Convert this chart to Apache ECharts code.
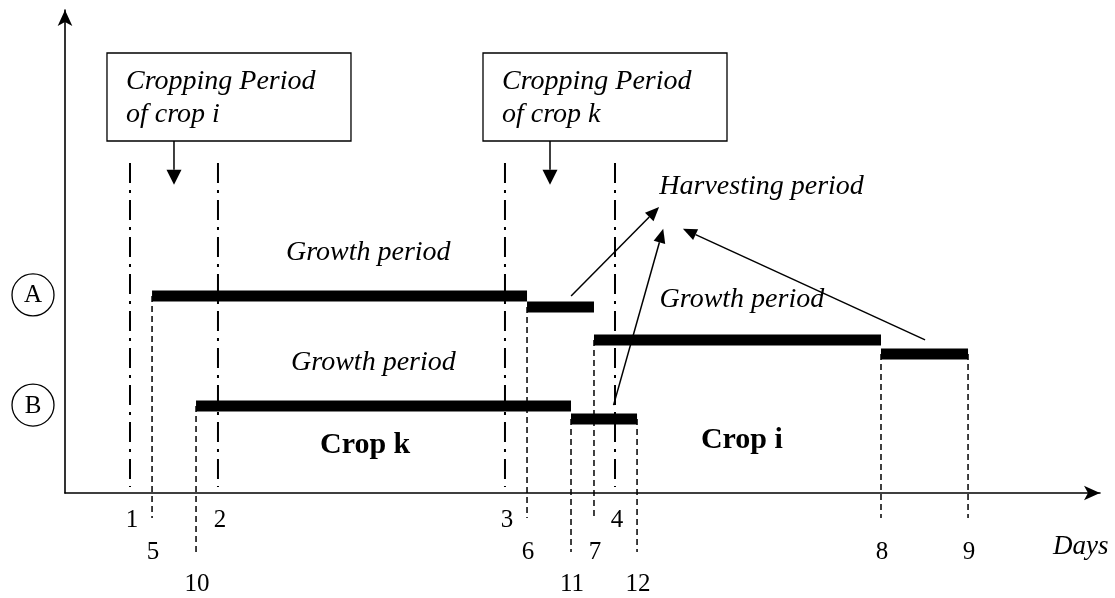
<!DOCTYPE html>
<html lang="en">
<head>
<meta charset="UTF-8">
<title>Cropping and harvesting periods</title>
<script src="https://cdn.jsdelivr.net/npm/echarts@6/dist/echarts.min.js"></script>
<style>
    body, html { margin: 0; background: #fff; }
    #main { width: 1115px; height: 598px; }
</style>
</head>
<body>
<div id="main"></div>
<script>
    // days on the time axis (x axis runs 0..100)
    const boundaryDays = [6.28, 14.78, 42.51, 53.14];     // limits of the cropping periods
    const boundaryLabels = ['1', '2', '3', '4'];
    const daysA = [8.41, 44.64, 51.11, 78.84, 87.25];     // field A
    const labelsA = ['5', '6', '7', '8', '9'];
    const daysB = [12.66, 48.89, 55.27];                  // field B
    const labelsB = ['10', '11', '12'];
    // height of each bar between two consecutive days above
    const levelsA = [40.8, 38.5, 31.7, 28.8];
    const levelsB = [18.0, 15.3];
    const rowNames = ['A', 'B'];

    // annotations
    const noteTexts = ['Growth period', 'Growth period', 'Growth period', 'Harvesting period'];
    const notePos = [[29.3, 49.7], [29.8, 26.9], [65.4, 40.0], [67.3, 63.4]];
    const cropTexts = ['Crop k', 'Crop i'];
    const cropPos = [[29.0, 9.9], [65.4, 11.0]];
    const boxTexts = [['Cropping Period', 'of crop i'], ['Cropping Period', 'of crop k']];
    const boxArrowDays = [10.53, 46.86];
    const harvestFrom = [[48.9, 40.8], [53.0, 18.2], [83.1, 31.7]];
    const harvestTo = [[57.4, 59.2], [57.8, 54.7], [59.7, 54.7]];

    const INK = '#000';
    const SERIF = '"Liberation Serif", "Times New Roman", serif';
    const DASHDOT_TOP = 68.3;
    const BOX_TOP = 91.1;
    const BOX_ARROW_END = 63.8;

    const rows = [
        {days: daysA, levels: levelsA, labels: labelsA, drop: 25, labelDy: 59},
        {days: daysB, levels: levelsB, labels: labelsB, drop: 59, labelDy: 91}
    ];

    // flat lists built from the arrays above
    const bars = [];
    const drops = [];
    rows.forEach(function (r, ri) {
        for (let i = 0; i < r.levels.length; i++) {
            bars.push([r.days[i], r.levels[i], r.days[i + 1]]);
        }
        r.days.forEach(function (d, i) {
            const lvl = r.levels[Math.min(i, r.levels.length - 1)];
            drops.push([d, lvl, ri, i]);
        });
    });

    function arrow(p0, p1, len, half, lw) {
        const dx = p1[0] - p0[0], dy = p1[1] - p0[1];
        const L = Math.hypot(dx, dy), ux = dx / L, uy = dy / L;
        const bx = p1[0] - ux * len, by = p1[1] - uy * len;
        return [
            {type: 'line', shape: {x1: p0[0], y1: p0[1], x2: bx, y2: by}, style: {stroke: INK, lineWidth: lw}},
            {type: 'polygon', shape: {points: [[p1[0], p1[1]], [bx - uy * half, by + ux * half], [bx + uy * half, by - ux * half]]}, style: {fill: INK}}
        ];
    }

    function txt(text, x, y, font, align) {
        return {type: 'text', style: {text: text, x: x, y: y, font: font, fill: INK,
            align: align || 'center', verticalAlign: 'middle'}};
    }

    const chart = echarts.init(document.getElementById('main'));

    const axisBase = {
        type: 'value',
        axisTick: {show: false},
        axisLabel: {show: false},
        splitLine: {show: false},
        axisLine: {show: true, symbol: ['none', 'arrow'], symbolSize: [11, 16], lineStyle: {color: INK, width: 1.6}}
    };

    const option = {
        backgroundColor: '#fff',
        animation: false,
        grid: {left: 65, right: 15, top: 10, bottom: 105, outerBoundsMode: 'none'},
        xAxis: Object.assign({}, axisBase, {
            min: 0, max: 100,
            name: 'Days', nameLocation: 'end', nameGap: -47,
            nameTextStyle: {fontFamily: SERIF, fontStyle: 'italic', fontSize: 27, color: INK,
                align: 'left', verticalAlign: 'top', padding: [40, 0, 0, 0]}
        }),
        yAxis: Object.assign({}, axisBase, {min: 0, max: 100}),
        series: [
            {   // cropping period limits 1..4
                type: 'custom', silent: true, z: 1,
                data: boundaryDays.map(function (d) { return [d, 0]; }),
                renderItem: function (params, api) {
                    const top = api.coord([api.value(0), DASHDOT_TOP]);
                    const base = api.coord([api.value(0), 0]);
                    return {type: 'group', children: [
                        {type: 'line', shape: {x1: top[0], y1: top[1], x2: base[0], y2: base[1] - 6},
                            style: {stroke: INK, lineWidth: 2, lineDash: [20, 7, 3, 7]}},
                        txt(boundaryLabels[params.dataIndex], base[0] + 2, base[1] + 27, '25px ' + SERIF)
                    ]};
                }
            },
            {   // dashed drop lines 5..12
                type: 'custom', silent: true, z: 1,
                data: drops,
                renderItem: function (params, api) {
                    const r = rows[api.value(2)];
                    const top = api.coord([api.value(0), api.value(1)]);
                    const base = api.coord([api.value(0), 0]);
                    return {type: 'group', children: [
                        {type: 'line', shape: {x1: top[0], y1: top[1], x2: base[0], y2: base[1] + r.drop},
                            style: {stroke: INK, lineWidth: 1.5, lineDash: [6, 4]}},
                        txt(r.labels[api.value(3)], base[0] + 1, base[1] + r.labelDy, '25px ' + SERIF)
                    ]};
                }
            },
            {   // growth / harvest bars
                type: 'custom', silent: true, z: 3,
                data: bars,
                renderItem: function (params, api) {
                    const a = api.coord([api.value(0), api.value(1)]);
                    const b = api.coord([api.value(2), api.value(1)]);
                    return {type: 'rect', shape: {x: a[0], y: a[1] - 5.5, width: b[0] - a[0], height: 11},
                        style: {fill: INK}};
                }
            },
            {   // row markers A and B
                type: 'custom', silent: true, z: 3,
                data: [[0, levelsA[0]], [0, levelsB[0]]],
                renderItem: function (params, api) {
                    const c = api.coord([0, api.value(1)]);
                    const x = c[0] - 32, y = c[1] - 1;
                    return {type: 'group', children: [
                        {type: 'circle', shape: {cx: x, cy: y, r: 21}, style: {fill: 'none', stroke: INK, lineWidth: 1.3}},
                        txt(rowNames[params.dataIndex], x, y + 1, '25px ' + SERIF)
                    ]};
                }
            },
            {   // italic notes
                type: 'custom', silent: true, z: 4,
                data: notePos,
                renderItem: function (params, api) {
                    const p = api.coord([api.value(0), api.value(1)]);
                    return txt(noteTexts[params.dataIndex], p[0], p[1], 'italic 28px ' + SERIF);
                }
            },
            {   // crop names
                type: 'custom', silent: true, z: 4,
                data: cropPos,
                renderItem: function (params, api) {
                    const p = api.coord([api.value(0), api.value(1)]);
                    return txt(cropTexts[params.dataIndex], p[0], p[1], 'bold 30px ' + SERIF);
                }
            },
            {   // cropping period boxes
                type: 'custom', silent: true, z: 4,
                data: boxArrowDays.map(function (d) { return [d, BOX_TOP]; }),
                renderItem: function (params, api) {
                    const top = api.coord([api.value(0), BOX_TOP]);
                    const end = api.coord([api.value(0), BOX_ARROW_END]);
                    const left = top[0] - 67, y0 = top[1];
                    const lines = boxTexts[params.dataIndex];
                    const kids = [
                        {type: 'rect', shape: {x: left, y: y0, width: 244, height: 88},
                            style: {fill: '#fff', stroke: INK, lineWidth: 1.3}},
                        txt(lines[0], left + 19, y0 + 29, 'italic 28px ' + SERIF, 'left'),
                        txt(lines[1], left + 19, y0 + 62, 'italic 28px ' + SERIF, 'left')
                    ];
                    return {type: 'group', children: kids.concat(arrow([top[0], y0 + 88], end, 15, 7.5, 1.5))};
                }
            },
            {   // harvest arrows
                type: 'custom', silent: true, z: 5,
                data: harvestFrom.map(function (p, i) { return [p[0], p[1], harvestTo[i][0], harvestTo[i][1]]; }),
                renderItem: function (params, api) {
                    const a = api.coord([api.value(0), api.value(1)]);
                    const b = api.coord([api.value(2), api.value(3)]);
                    return {type: 'group', children: arrow(a, b, 14, 6, 1.5)};
                }
            }
        ]
    };

    chart.setOption(option);
</script>
</body>
</html>
